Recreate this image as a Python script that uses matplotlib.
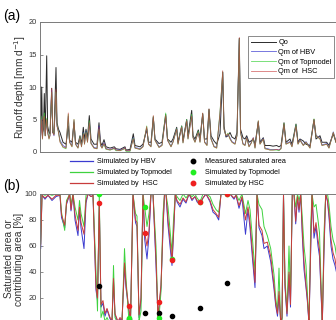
import matplotlib
matplotlib.use("Agg")
import matplotlib.pyplot as plt
from matplotlib.lines import Line2D

plt.rcParams['font.family'] = ['Liberation Sans', 'DejaVu Sans']

# ---- panel (a): runoff, day index vs mm/d ----
days_a = [0, 1, 1.7, 2.5, 3.5, 4.3, 5.2, 6.7, 7.6, 9, 10, 11.7, 12.8, 14, 16, 17, 18.5, 20, 23, 26,
          28.3, 29.5, 32, 34, 35.5, 38, 40, 41.5, 43.3, 44.5, 46, 47.5, 49.3, 51, 54, 57, 59, 60.5, 62, 64,
          66, 70, 74.3, 76, 80, 85, 86, 90, 93.3, 95, 100, 103, 106.7, 108.5, 111, 113.3, 115, 119, 122, 125.7,
          127.5, 131, 133, 136.7, 138, 141.7, 143, 146.7, 148, 151.7, 153, 155, 158.3, 160, 162.7, 164.5, 167, 169, 171, 174,
          176.7, 180, 182.7, 184, 186, 188, 190, 192, 195, 197, 199.3, 200.5, 203, 205, 206.7, 209, 211, 213.3, 215, 218.3,
          220, 223.3, 225, 228, 230, 233, 236.7, 239, 241, 244, 246, 250, 252, 256, 258, 260, 263.3, 266, 270, 274,
          276, 280, 282, 286.7, 289, 293.3, 296]
qo = [0.8, 4, 10, 3, 3.5, 9, 2.5, 14.8, 4, 3, 2.8, 9.8, 3, 2.8, 13, 4.5, 3.5, 3, 1.5, 1.2,
      4, 1.8, 1.5, 4.5, 1.5, 1.2, 2.5, 1.2, 3.8, 2, 3.5, 2.2, 5.6, 2, 1.2, 1.2, 4.5, 1.5, 1, 1.9,
      0.8, 0.6, 0.8, 0.5, 0.4, 0.8, 0.3, 0.4, 2.8, 1, 0.8, 1.2, 3.5, 1.5, 1.5, 5.3, 2, 1.3, 1.5, 5.8,
      2, 1.5, 2, 3.8, 1.5, 4, 1.8, 5, 2.5, 6.4, 2.5, 2, 3.4, 2.2, 5.9, 2, 2, 6.6, 2.5, 1.7,
      1.2, 2.8, 12.3, 4, 2.3, 2.5, 3, 2.3, 2, 3, 17.5, 3.5, 2.2, 2, 2.5, 1.5, 1.7, 2, 1.2, 4.6,
      1.5, 2.2, 1, 1, 1, 0.9, 1, 0.8, 1, 4.5, 1.5, 2, 1.2, 4.3, 1.5, 2, 1.7, 1.2, 1, 5,
      2, 2.5, 1.5, 1.5, 1, 2.8, 1.5]
qm_hbv = [0.6, 3.5, 5, 2.2, 4.5, 5, 2.7, 4.5, 3, 2.2, 2.5, 9.5, 3.1, 2.5, 9, 4, 3.1, 1.8, 1, 0.7,
          5.5, 1.6, 1, 4.8, 1.3, 0.7, 2.2, 0.9, 3, 1.3, 3.2, 1.6, 4.5, 1.4, 0.7, 0.6, 4, 1.1, 0.7, 1.4,
          0.5, 0.4, 0.6, 0.3, 0.3, 0.6, 0.2, 0.2, 2.2, 0.7, 0.5, 0.9, 3.7, 1.3, 0.9, 5.4, 1.9, 0.8, 1.1, 5.5,
          1.8, 0.9, 1.6, 3.6, 1.3, 3.9, 1.5, 4.9, 2.1, 5.6, 2.3, 1.6, 3.1, 1.6, 5.8, 1.6, 1.1, 6.4, 2.1, 0.9,
          0.7, 5.8, 12.2, 3.6, 2.4, 2.7, 2.2, 1.6, 1.3, 2.6, 17.3, 3.1, 1.3, 1.1, 2.3, 0.9, 1.4, 2.2, 0.7, 4.7,
          1.3, 2.1, 0.6, 0.5, 0.4, 0.4, 0.4, 0.3, 0.6, 4.2, 1.3, 1.6, 0.9, 4.1, 1.3, 1.9, 1.1, 1.6, 0.7, 4.9,
          2.6, 2.1, 1.1, 1.3, 0.7, 3.1, 1.6]
qm_top = [0.4, 5.5, 4.5, 2, 5, 6, 2.5, 5.2, 3.2, 2, 2.7, 9.2, 3.2, 2.7, 9.2, 4.2, 3, 1.6, 0.7, 0.5,
          5.8, 1.5, 0.8, 5, 1.2, 0.6, 2.3, 0.8, 2.9, 1.2, 3.1, 1.5, 4.8, 1.3, 0.6, 0.5, 3.5, 1, 0.6, 1.2,
          0.4, 0.3, 0.5, 0.2, 0.2, 0.5, 0.1, 0.1, 2.1, 0.6, 0.4, 0.8, 4, 1.2, 0.8, 5.5, 1.8, 0.7, 1, 6,
          1.9, 0.8, 1.5, 3.6, 1.2, 4, 1.4, 5, 2, 5.8, 2.2, 1.5, 3.2, 1.5, 5.9, 1.5, 1, 6.5, 2, 0.8,
          0.6, 6.2, 12.3, 3.5, 2.5, 2.9, 2, 1.5, 1.2, 2.5, 17.4, 3, 1.2, 1, 2.2, 0.8, 1.3, 2.1, 0.6, 4.8,
          1.2, 2, 0.5, 0.4, 0.3, 0.3, 0.3, 0.2, 0.5, 4.4, 1.2, 1.5, 0.8, 4.2, 1.2, 1.8, 1, 1.5, 0.6, 5.1,
          2.5, 2, 1, 1.2, 0.6, 3, 1.5]
qm_hsc = [0.5, 3, 5, 2, 5, 5.5, 2.5, 5, 3, 2, 2.5, 9.8, 3, 2.6, 9.6, 4, 3, 1.5, 0.8, 0.6,
          6, 1.5, 0.8, 5, 1.2, 0.6, 2.2, 0.8, 2.8, 1.2, 3, 1.5, 4.5, 1.3, 0.6, 0.5, 3.8, 1, 0.6, 1.3,
          0.5, 0.3, 0.6, 0.3, 0.2, 0.6, 0.2, 0.2, 2, 0.6, 0.4, 0.8, 3.9, 1.2, 0.8, 5.6, 1.8, 0.7, 1, 5.6,
          1.8, 0.8, 1.5, 3.5, 1.2, 3.8, 1.4, 4.8, 2, 5.5, 2.2, 1.5, 3, 1.5, 6, 1.5, 1, 6.6, 2, 0.8,
          0.6, 6, 12.5, 3.5, 2.5, 2.8, 2, 1.5, 1.2, 2.5, 17.6, 3, 1.2, 1, 2.2, 0.8, 1.3, 2.2, 0.6, 4.8,
          1.2, 2, 0.5, 0.4, 0.3, 0.3, 0.4, 0.3, 0.5, 4.3, 1.2, 1.5, 0.8, 4, 1.2, 1.8, 1, 1.5, 0.6, 5,
          2.5, 2, 1, 1.2, 0.6, 3, 1.5]

# ---- panel (b): saturated / contributing area [%] ----
days_b = [0.7, 2, 5, 8, 12, 16, 20, 21.5, 24.7, 26.5, 29.7, 31, 33, 35, 38, 39.5, 41, 44, 46, 48,
          51, 53, 56, 57.5, 59.3, 61, 63, 65, 67, 70, 72, 73.5, 75, 78, 80, 82, 84.5, 86, 88.7, 90.5,
          93, 95.5, 97, 99, 101, 103, 104.7, 107, 109, 111, 113, 116, 118, 119.3, 121, 123, 124.5, 126, 128, 130,
          132, 133.5, 135.3, 137, 140, 143, 146, 149, 152, 155, 157, 160, 163, 166, 170, 173, 176, 178.7, 181, 186.7,
          190, 194, 196, 199, 202, 205.5, 208, 210, 212.5, 215, 217, 219, 222, 224, 227.3, 230.7, 234, 235.7, 237.5, 239,
          240.7, 242, 243.5, 245, 247, 249, 250.5, 252.3, 254, 255.7, 257.5, 259, 260.7, 262.3, 264, 266, 267.3, 269, 270.7, 272,
          274, 276, 278, 279.5, 282.3, 284, 285.7, 287.5, 289, 291, 293, 295, 297]
sa_hbv = [58, 99, 96, 99, 95, 98, 99, 82, 74, 92, 100, 87, 100, 80, 68, 88, 74, 58, 93, 100,
          98, 99, 26, 18, 92, 13, 16, 6, 11, 4, 2, 33, 7, 1, 4, 2, 45, 28, 11, 2,
          100, 78, 75, 5, 18, 100, 65, 50, 68, 100, 100, 45, 4, 15, 28, 72, 100, 100, 76, 60,
          45, 68, 100, 94, 90, 96, 93, 100, 95, 98, 94, 92, 97, 100, 94, 86, 84, 80, 100, 100,
          100, 96, 99, 89, 97, 69, 88, 74, 50, 28, 100, 74, 68, 58, 60, 48, 27, 14, 6, 22,
          1, 4, 100, 28, 6, 38, 13, 100, 100, 77, 98, 86, 100, 68, 42, 28, 18, 0, 58, 100,
          66, 75, 60, 52, 0, 55, 100, 94, 82, 60, 50, 45, 38]
sa_top = [62, 100, 99, 100, 99, 100, 100, 86, 72, 95, 100, 92, 100, 90, 80, 95, 85, 75, 99, 100,
          100, 100, 40, 10, 100, 5, 10, 2, 5, 0, 0, 45, 5, 0, 2, 0, 58, 35, 5, 0,
          100, 85, 83, 2, 10, 100, 90, 75, 85, 100, 100, 60, 2, 8, 25, 85, 100, 100, 90, 72,
          55, 80, 100, 98, 95, 100, 97, 100, 98, 100, 97, 94, 100, 100, 98, 92, 88, 86, 100, 100,
          100, 100, 100, 95, 100, 85, 95, 88, 65, 40, 100, 92, 88, 75, 68, 58, 38, 20, 10, 43,
          0, 2, 100, 35, 10, 60, 20, 100, 100, 90, 100, 95, 100, 82, 60, 45, 25, 0, 75, 100,
          90, 92, 80, 70, 0, 70, 100, 100, 92, 75, 65, 60, 50]
sa_hsc = [61, 99, 97, 99, 96, 99, 99, 84, 76, 93, 100, 88, 100, 84, 72, 90, 78, 69, 95, 100,
          98, 99, 28, 20, 93, 15, 18, 8, 12, 5, 3, 35, 8, 2, 5, 3, 47, 30, 13, 3,
          100, 80, 78, 7, 20, 100, 70, 60, 72, 100, 100, 50, 5, 17, 30, 75, 100, 100, 80, 65,
          49, 70, 100, 95, 92, 97, 94, 100, 96, 98, 95, 93, 97, 100, 95, 88, 85, 82, 100, 100,
          100, 97, 99, 91, 98, 80, 90, 78, 55, 32, 100, 76, 72, 62, 63, 52, 30, 16, 8, 25,
          2, 5, 100, 30, 8, 40, 15, 100, 100, 79, 98, 88, 100, 72, 48, 30, 20, 1, 60, 100,
          70, 78, 65, 57, 0, 60, 100, 95, 85, 65, 55, 50, 40]

obs_days = [59.3, 88.7, 104.7, 119.3, 132, 160, 186.7]
sa_measured = [29, 4, 8.7, 8.2, 6.1, 12.6, 31.8]
sa_top_pts = [100, 5, 90, 4.7, 50, 94, 100]
sa_hsc_pts = [93, 13.5, 70, 17.2, 49, 93.6, 100]

c_obs = '#2b2b2b'
c_hbv = '#3b3bd0'
c_top = '#3fd23f'
c_hsc = '#c83c3c'
spine_c = '#7a7a7a'

fig = plt.figure(figsize=(3.36, 3.2), dpi=100)
W = 340  # axes width in days ~ pixels; right part runs off the figure
ax1 = fig.add_axes([40 / 336, 1 - 152 / 320, W / 336, 130 / 320])
ax2 = fig.add_axes([40 / 336, 1 - 324 / 320, W / 336, 130 / 320])

ax1.plot(days_a, qo, color=c_obs, lw=0.7, label='Qo')
ax1.plot(days_a, qm_hbv, color=c_hbv, lw=0.6, alpha=0.8, label='Qm of HBV')
ax1.plot(days_a, qm_top, color=c_top, lw=0.6, alpha=0.8, label='Qm of Topmodel')
ax1.plot(days_a, qm_hsc, color=c_hsc, lw=0.6, alpha=0.7, label='Qm of  HSC')
ax1.set_xlim(0, W)
ax1.set_ylim(0, 20)
ax1.set_yticks([0, 5, 10, 15, 20])
ax1.set_xticks([])
ax1.set_ylabel('Runoff depth [mm d$^{-1}$]', fontsize=7.3, color='#333333', labelpad=0.5)
leg1 = ax1.legend(loc='upper left', bbox_to_anchor=(248 / 336, 1 - 36 / 320),
                  bbox_transform=fig.transFigure, fontsize=5.3, frameon=True, fancybox=False,
                  edgecolor='#555555', handlelength=3.4, handletextpad=0.3, labelspacing=0.35,
                  borderpad=0.4, borderaxespad=0)
leg1.get_frame().set_linewidth(0.6)

ax2.plot(days_b, sa_hbv, color=c_hbv, lw=0.7, label='Simulated by HBV')
ax2.plot(days_b, sa_top, color=c_top, lw=0.7, label='Simulated by Topmodel')
ax2.plot(days_b, sa_hsc, color=c_hsc, lw=0.7, label='Simulated by  HSC')
ax2.scatter(obs_days, sa_measured, s=9, color='black', zorder=5)
ax2.scatter(obs_days, sa_top_pts, s=9, color='#22ee22', zorder=5)
ax2.scatter(obs_days, sa_hsc_pts, s=9, color='#ee2020', zorder=6)
ax2.set_xlim(0, W)
ax2.set_ylim(0, 100)
ax2.set_yticks([20, 40, 60, 80, 100])
ax2.set_xticks([])
ax2.set_ylabel('Saturated area or\ncontributing area [%]', fontsize=7.3, color='#333333',
               labelpad=0.5, linespacing=1.05)

h_lines = [Line2D([], [], color=c, lw=0.9) for c in (c_hbv, c_top, c_hsc)]
fig.legend(h_lines, ['Simulated by HBV', 'Simulated by Topmodel', 'Simulated by  HSC'],
           loc='upper left', bbox_to_anchor=(70 / 336, 1 - 158 / 320), fontsize=5.2,
           frameon=False, handlelength=3.2, handletextpad=0.5, labelspacing=0.55,
           borderpad=0, borderaxespad=0)
h_pts = [Line2D([], [], ls='none', marker='o', ms=3.2, color=c) for c in ('black', '#22ee22', '#ee2020')]
fig.legend(h_pts, ['Measured saturated area', 'Simulated by Topmodel', 'Simulated by HSC'],
           loc='upper left', bbox_to_anchor=(189 / 336, 1 - 158 / 320), fontsize=5.2,
           frameon=False, handlelength=1.0, handletextpad=1.2, labelspacing=0.55,
           borderpad=0, borderaxespad=0)

for ax in (ax1, ax2):
    for s in ax.spines.values():
        s.set_color(spine_c)
        s.set_linewidth(0.7)
    ax.tick_params(axis='y', direction='in', length=2, width=0.6, labelsize=5.4,
                   colors='#333333', pad=2)
    ax.tick_params(axis='y', color=spine_c)

fig.text(3 / 336, 1 - 16 / 320, '(a)', fontsize=10, va='center', ha='left')
fig.text(3 / 336, 1 - 186 / 320, '(b)', fontsize=10, va='center', ha='left')

fig.savefig('out.png', dpi=100)
